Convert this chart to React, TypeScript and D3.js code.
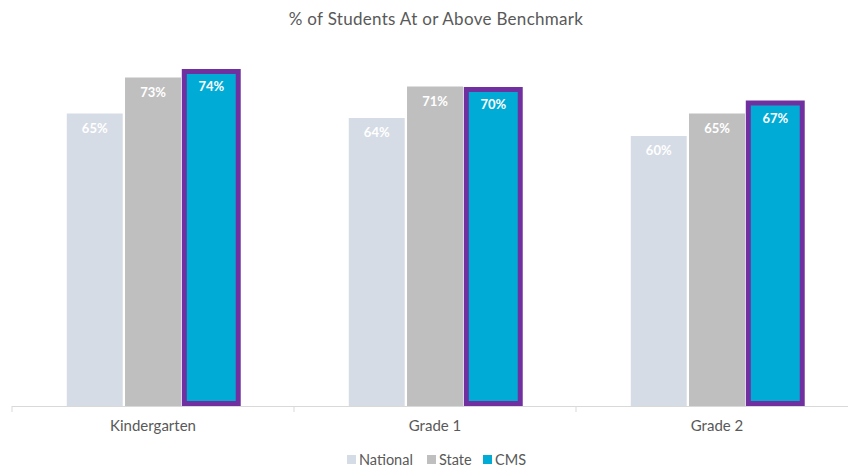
import React from "react";
import * as d3 from "d3";

const categories = ["Kindergarten", "Grade 1", "Grade 2"];
const seriesNames = ["National", "State", "CMS"];
const nationalValues = [65, 64, 60];
const stateValues = [73, 71, 65];
const cmsValues = [74, 70, 67];
const title = "% of Students At or Above Benchmark";

const colors: Record<string, string> = {
  National: "#d6dce5",
  State: "#bfbfbf",
  CMS: "#00acd6",
};

const W = 848;
const H = 468;
const baseY = 406;

export default function App() {
  const x0 = d3.scaleBand<string>().domain(categories).range([12, 858]).padding(0);
  const x1 = d3
    .scaleBand<string>()
    .domain(seriesNames)
    .range([0, x0.bandwidth()])
    .paddingInner(0.04)
    .paddingOuter(0.94);
  const y = d3.scaleLinear().domain([0, 100]).range([baseY, baseY - 450]);

  const valuesBySeries: Record<string, number[]> = {
    National: nationalValues,
    State: stateValues,
    CMS: cmsValues,
  };

  const font = "Lato, 'Open Sans', sans-serif";
  const legendX = [347, 427, 483];

  return (
    <svg width={W} height={H} style={{ position: "absolute", left: 0, top: 0 }} fontFamily={font}>
      <rect width={W} height={H} fill="#fff" />
      <text x={436} y={25} textAnchor="middle" fontSize={17} fill="#595959" letterSpacing={0.3}>
        {title}
      </text>
      {categories.map((c, ci) => (
        <g key={c} transform={`translate(${x0(c)},0)`}>
          {seriesNames.map((s) => {
            const v = valuesBySeries[s][ci];
            const bx = x1(s)!;
            const bw = x1.bandwidth();
            const top = y(v);
            const isCMS = s === "CMS";
            return (
              <g key={s}>
                {isCMS ? (
                  <rect
                    x={bx + 1}
                    y={top - 1.5}
                    width={bw - 2}
                    height={baseY - 2.5 - (top - 1.5)}
                    fill={colors[s]}
                    stroke="#7030a0"
                    strokeWidth={5}
                  />
                ) : (
                  <rect x={bx} y={top} width={bw} height={baseY - top} fill={colors[s]} />
                )}
                <text
                  x={bx + bw / 2}
                  y={top + (isCMS ? 18 : 19)}
                  textAnchor="middle"
                  fontSize={13}
                  fontWeight="bold"
                  fill="#fff"
                >
                  {v}%
                </text>
              </g>
            );
          })}
        </g>
      ))}
      <line x1={12} x2={848} y1={baseY + 0.5} y2={baseY + 0.5} stroke="#d9d9d9" strokeWidth={1} />
      {[...categories.map((c) => x0(c)!), 858].map((t, i) => (
        <line key={i} x1={t} x2={t} y1={baseY} y2={baseY + 6} stroke="#d9d9d9" strokeWidth={1} />
      ))}
      {categories.map((c) => (
        <text
          key={c}
          x={x0(c)! + x0.bandwidth() / 2}
          y={431}
          textAnchor="middle"
          fontSize={15}
          fill="#595959"
        >
          {c}
        </text>
      ))}
      {seriesNames.map((s, i) => (
        <g key={s}>
          <rect x={legendX[i]} y={455} width={9} height={9} fill={colors[s]} />
          <text x={legendX[i] + 12} y={465} fontSize={14.5} fill="#595959">
            {s}
          </text>
        </g>
      ))}
    </svg>
  );
}
